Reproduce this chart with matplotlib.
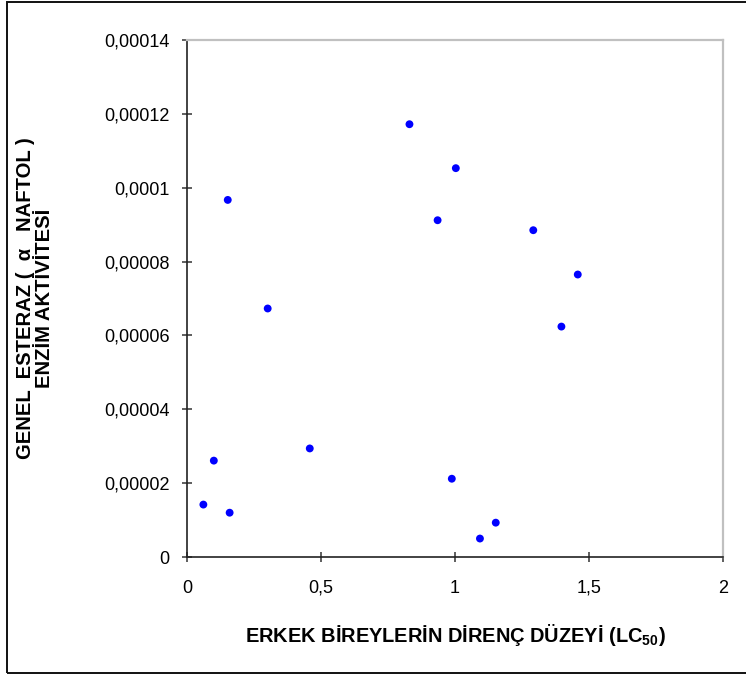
import matplotlib
matplotlib.use("Agg")
import matplotlib.pyplot as plt
from matplotlib.patches import Rectangle
from matplotlib.ticker import FuncFormatter, MultipleLocator

# LC50 resistance level of male individuals vs. general esterase activity
lc50 = [0.830, 1.003, 0.152, 0.935, 0.301, 1.292, 1.458, 1.397,
        0.100, 0.061, 0.159, 0.458, 0.988, 1.093, 1.152]
esterase = [0.0001172, 0.0001053, 0.0000967, 0.0000912, 0.0000673,
            0.0000885, 0.0000765, 0.0000624, 0.0000261, 0.0000142,
            0.0000120, 0.0000294, 0.0000212, 0.0000050, 0.0000093]

x_label = "ERKEK BİREYLERİN DİRENÇ DÜZEYİ (LC$_{50}$)"
y_label = "GENEL  ESTERAZ (  α   NAFTOL )\nENZİM AKTİVİTESİ"

plt.rcParams["font.family"] = ["Liberation Sans", "DejaVu Sans"]
plt.rcParams["mathtext.fontset"] = "custom"
plt.rcParams["mathtext.rm"] = "Liberation Sans:bold"
plt.rcParams["mathtext.it"] = "Liberation Sans:bold"
plt.rcParams["mathtext.bf"] = "Liberation Sans:bold"


def comma_fmt(v, _pos):
    if abs(v) < 1e-12:
        return "0"
    s = f"{v:.5f}".rstrip("0").rstrip(".")
    return s.replace(".", ",")


fig = plt.figure(figsize=(7.46, 6.75), dpi=100)
ax = fig.add_axes([0.2507, 0.1748, 0.7185, 0.7659])

ax.scatter(lc50, esterase, s=32, color="#0000FF", edgecolors="none",
           zorder=3, clip_on=False)

ax.set_xlim(0, 2)
ax.set_ylim(0, 0.00014)
ax.xaxis.set_major_locator(MultipleLocator(0.5))
ax.yaxis.set_major_locator(MultipleLocator(0.00002))
ax.xaxis.set_major_formatter(FuncFormatter(comma_fmt))
ax.yaxis.set_major_formatter(FuncFormatter(comma_fmt))
ax.tick_params(direction="inout", length=7, width=1.1, labelsize=13,
               color="#333333")
ax.tick_params(axis="y", pad=9)
ax.tick_params(axis="x", pad=13)

for sp in ["left", "bottom"]:
    ax.spines[sp].set_color("#222222")
    ax.spines[sp].set_linewidth(1.2)
for sp in ["top", "right"]:
    ax.spines[sp].set_color("#C0C0C0")
    ax.spines[sp].set_linewidth(1.6)

ax.set_xlabel(x_label, fontsize=14.4, fontweight="bold", labelpad=18)
ax.set_ylabel(y_label, fontsize=14.6, fontweight="bold", labelpad=36,
              linespacing=1.0, multialignment="center")

# outer chart border
fig.patches.append(Rectangle((0.0094, 0.003), 1.2, 0.994,
                             transform=fig.transFigure, fill=False,
                             edgecolor="#111111", linewidth=1.4))

fig.savefig("out.png", dpi=100)
